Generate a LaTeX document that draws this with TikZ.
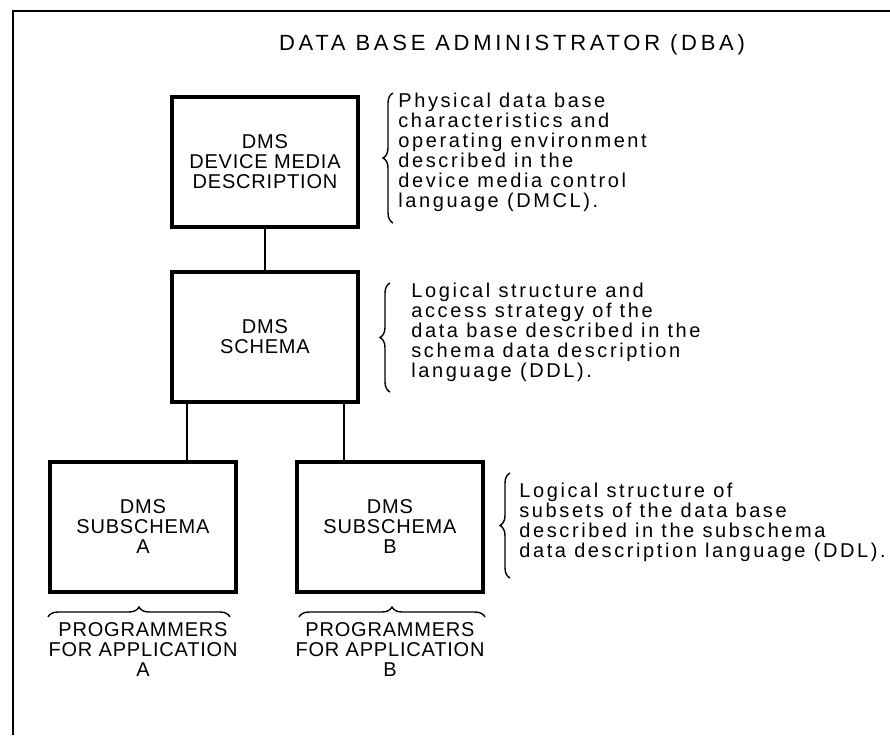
\documentclass[tikz,border=0pt]{standalone}
\usepackage{fontspec}
\setmainfont{Liberation Sans}
\newfontfamily\boxfont[LetterSpace=4]{Liberation Sans}
\newfontfamily\notefont[LetterSpace=13]{Liberation Sans}
\newfontfamily\titlefont[LetterSpace=17]{Liberation Sans}
\usetikzlibrary{positioning, decorations.pathreplacing}
\tikzstyle{dmsBox} = [rectangle, minimum width=93pt, minimum height=65pt, text centered, align=center, draw=black, line width=2pt, font=\boxfont\fontsize{10}{10}\selectfont]
\tikzstyle{noteText} = [align=left, inner sep=0pt, font=\notefont\fontsize{10}{10}\selectfont]
\tikzstyle{progText} = [align=center, inner sep=0pt, font=\boxfont\fontsize{10}{10}\selectfont]
\tikzstyle{titleText} = [inner sep=0pt, font=\titlefont\fontsize{11}{12}\selectfont]
\tikzstyle{link} = [line width=0.75pt, draw=black]
\tikzstyle{braceL} = [decorate, decoration={brace, amplitude=5pt}, line width=0.7pt]

\begin{document}
\begin{tikzpicture}[x=0.5pt, y=-0.5pt]
        \useasboundingbox (0,0) rectangle (890,735);
        \draw[line width=1pt] (13,735) -- (13,11) -- (890,11);

        \node (dba) [titleText] at (512,45) {DATA BASE ADMINISTRATOR (DBA)};
        \node (dmcl) [dmsBox] at (265,162) {DMS\\DEVICE MEDIA\\DESCRIPTION};
        \node (schema) [dmsBox, below of=dmcl, node distance=87.5pt] {DMS\\SCHEMA};
        \node (subA) [dmsBox, below of=schema, node distance=95pt, xshift=-61pt] {DMS\\SUBSCHEMA\\A};
        \node (subB) [dmsBox, below of=schema, node distance=95pt, xshift=62.5pt] {DMS\\SUBSCHEMA\\B};

        \node (dmclNote) [noteText, right=19pt of dmcl, yshift=5pt] {Physical data base\\characteristics and\\operating environment\\described in the\\device media control\\language (DMCL).};
        \node (schemaNote) [noteText, right=25.5pt of schema, yshift=2.25pt] {Logical structure and\\access strategy of the\\data base described in the\\schema data description\\language (DDL).};
        \node (subNote) [noteText, right=17pt of subB, yshift=2.5pt] {Logical structure of\\subsets of the data base\\described in the subschema\\data description language (DDL).};

        \node (progA) [progText, below of=subA, node distance=61.5pt] {PROGRAMMERS\\FOR APPLICATION\\A};
        \node (progB) [progText, below of=subB, node distance=61.5pt] {PROGRAMMERS\\FOR APPLICATION\\B};

        \draw [link] (dmcl) -- (schema);
        \draw [link] ([xshift=8.5pt]schema.south west) -- ([xshift=8.5pt]schema.south west |- subA.north);
        \draw [link] ([xshift=-8pt]schema.south east) -- ([xshift=-8pt]schema.south east |- subB.north);

        \draw [braceL] (393,223) -- (393,93);
        \draw [braceL] (390,392) -- (390,283);
        \draw [braceL] (510,578) -- (510,473);
        \draw [braceL] ([yshift=-11.5pt]subA.south west) -- ([yshift=-11.5pt,xshift=-4pt]subA.south east);
        \draw [braceL] ([yshift=-11.5pt,xshift=2pt]subB.south west) -- ([yshift=-11.5pt]subB.south east);
    \end{tikzpicture}
\end{document}
